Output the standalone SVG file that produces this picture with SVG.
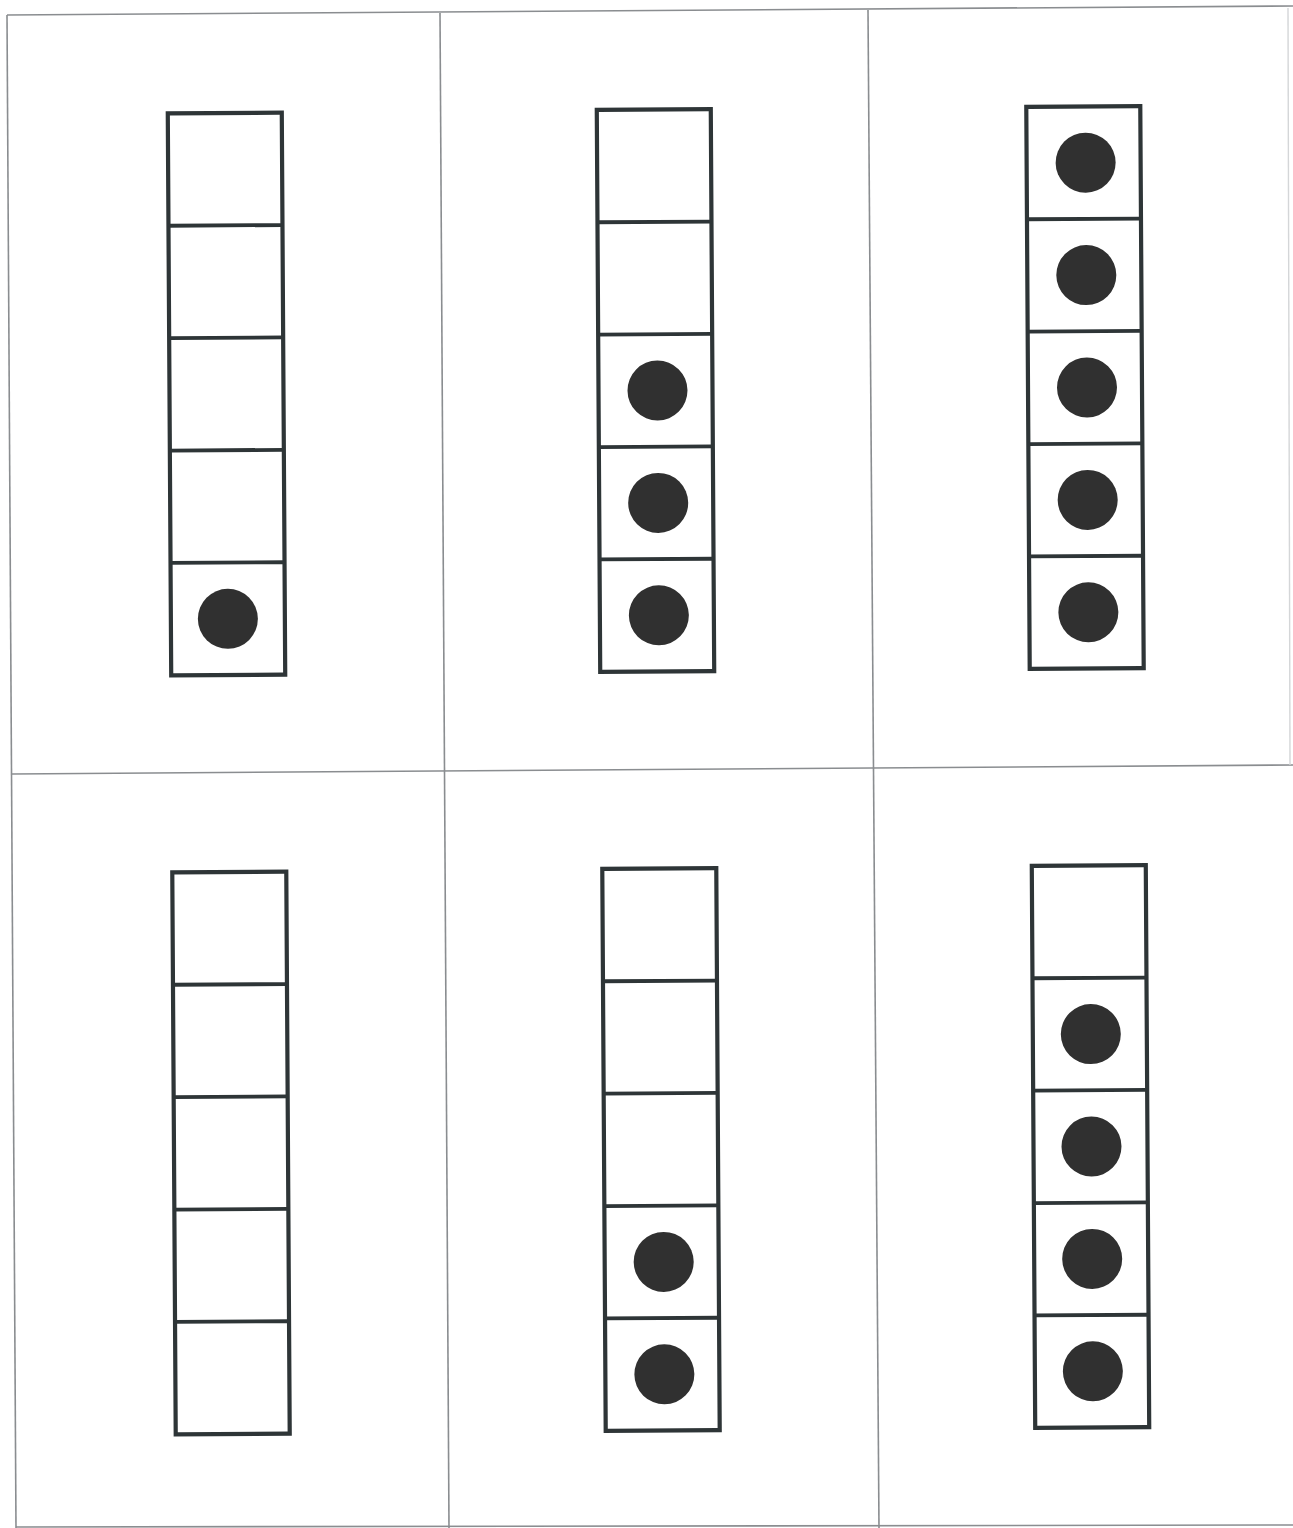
<svg xmlns="http://www.w3.org/2000/svg" width="1293" height="1528" viewBox="0 0 1293 1528">
<style>
.grid{stroke:#8a8d90;stroke-width:1.6;fill:none}
.faint{stroke:#d4d6d8;stroke-width:1.4;fill:none}
.frame{stroke:#2e3537;stroke-width:4.2;fill:#ffffff}
.div{stroke:#2e3537;stroke-width:3.8}
.dot{fill:#303030}
</style>
<defs>
<g id="five">
<rect class="frame" x="-57" y="-281" width="114" height="562"/>
<line class="div" x1="-57" y1="-168.6" x2="57" y2="-168.6"/>
<line class="div" x1="-57" y1="-56.2" x2="57" y2="-56.2"/>
<line class="div" x1="-57" y1="56.2" x2="57" y2="56.2"/>
<line class="div" x1="-57" y1="168.6" x2="57" y2="168.6"/>
</g>
</defs>
<rect width="1293" height="1528" fill="#ffffff"/>
<g id="connectors">
<line class="grid" x1="7" y1="15" x2="1293" y2="6"/>
<line class="grid" x1="7" y1="15" x2="16" y2="1528"/>
<line class="grid" x1="12" y1="774" x2="1293" y2="765"/>
<line class="grid" x1="16" y1="1527" x2="1293" y2="1525"/>
<line class="grid" x1="440" y1="13" x2="449" y2="1528"/>
<line class="grid" x1="868" y1="10" x2="879" y2="1528"/>
<line class="faint" x1="1288" y1="8" x2="1290" y2="765"/>
</g>
<g id="frame1" transform="translate(226.5 394) rotate(-0.35)">
<use href="#five"/>
<circle class="dot" cx="0" cy="224.8" r="30"/>
</g>
<g id="frame2" transform="translate(655.5 390.5) rotate(-0.35)">
<use href="#five"/>
<circle class="dot" cx="2" cy="0" r="30"/>
<circle class="dot" cx="2" cy="112.4" r="30"/>
<circle class="dot" cx="2" cy="224.8" r="30"/>
</g>
<g id="frame3" transform="translate(1085 387.5) rotate(-0.35)">
<use href="#five"/>
<circle class="dot" cx="2" cy="-224.8" r="30"/>
<circle class="dot" cx="2" cy="-112.4" r="30"/>
<circle class="dot" cx="2" cy="0" r="30"/>
<circle class="dot" cx="2" cy="112.4" r="30"/>
<circle class="dot" cx="2" cy="224.8" r="30"/>
</g>
<g id="frame4" transform="translate(231 1153) rotate(-0.35)">
<use href="#five"/>
</g>
<g id="frame5" transform="translate(661 1149.5) rotate(-0.35)">
<use href="#five"/>
<circle class="dot" cx="2" cy="112.4" r="30"/>
<circle class="dot" cx="2" cy="224.8" r="30"/>
</g>
<g id="frame6" transform="translate(1090.5 1146.5) rotate(-0.35)">
<use href="#five"/>
<circle class="dot" cx="1" cy="-112.4" r="30"/>
<circle class="dot" cx="1" cy="0" r="30"/>
<circle class="dot" cx="1" cy="112.4" r="30"/>
<circle class="dot" cx="1" cy="224.8" r="30"/>
</g>
</svg>
